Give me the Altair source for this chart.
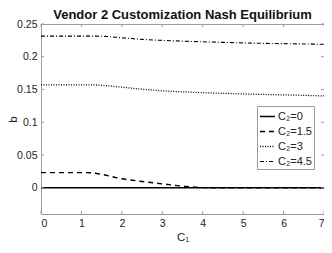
import altair as alt
import pandas as pd

x_vals = [0, 0.5, 1, 1.25, 1.5, 2, 2.5, 3, 3.5, 4, 4.5, 5, 5.5, 6, 6.5, 7]
c2_0 = [0] * 16
c2_15 = [0.0232, 0.0232, 0.0232, 0.0228, 0.0205, 0.0138, 0.0097, 0.006, 0.0025, 0.0003, 0, 0, 0, 0, 0, 0]
c2_3 = [0.157, 0.157, 0.157, 0.157, 0.1565, 0.1535, 0.1505, 0.148, 0.1465, 0.1452, 0.1442, 0.1433, 0.1425, 0.1418, 0.1411, 0.1402]
c2_45 = [0.2315, 0.2315, 0.2315, 0.2315, 0.2313, 0.229, 0.2265, 0.225, 0.2238, 0.2228, 0.222, 0.2212, 0.2205, 0.22, 0.2195, 0.219]
series_names = ["C\u2082=0", "C\u2082=1.5", "C\u2082=3", "C\u2082=4.5"]
x_ticks = [0, 1, 2, 3, 4, 5, 6, 7]
y_ticks = [0, 0.05, 0.1, 0.15, 0.2, 0.25]

rows = []
for name, ys in zip(series_names, [c2_0, c2_15, c2_3, c2_45]):
    for xv, yv in zip(x_vals, ys):
        rows.append({"x": xv, "y": yv, "s": name})
df = pd.DataFrame(rows)

W, H = 283, 190
FONT = "Liberation Sans"
GRAY = "#9a9a9a"

xs = alt.Scale(domain=[0, 7], nice=False)
ys = alt.Scale(domain=[-0.04, 0.25], nice=False, zero=False)

x_axis = alt.Axis(values=x_ticks, tickSize=0, labelPadding=4, titlePadding=3,
                  grid=False, domain=False, labelFontSize=10.5, titleFontSize=11.5,
                  titleFontWeight="normal", labelColor="#222", titleColor="#222",
                  labelOverlap=False)
y_axis = alt.Axis(values=y_ticks, format=".2~f", tickSize=0, labelPadding=4, titlePadding=-2,
                  grid=False, domain=False, labelFontSize=10.5, titleFontSize=11.5,
                  titleFontWeight="normal", labelColor="#222", titleColor="#222",
                  labelOverlap=False)

lines = alt.Chart(df).mark_line(color="black", interpolate="monotone").encode(
    x=alt.X("x:Q", scale=xs, title="C\u2081", axis=x_axis),
    y=alt.Y("y:Q", scale=ys, title="b", axis=y_axis),
    strokeDash=alt.StrokeDash("s:N", scale=alt.Scale(domain=series_names,
                                                     range=[[1, 0], [5, 4], [1, 1.5], [4, 2, 1, 2]]),
                              legend=alt.Legend(title=None, orient="none", legendX=216, legendY=82,
                                                fillColor="white", strokeColor=GRAY, padding=2,
                                                symbolType="stroke", symbolStrokeColor="black",
                                                symbolStrokeWidth=1.1, symbolSize=225,
                                                labelFontSize=11, labelColor="#222", rowPadding=1,
                                                labelOffset=2)),
    strokeWidth=alt.StrokeWidth("s:N", scale=alt.Scale(domain=series_names, range=[1.6, 1.1, 1.1, 1.1]),
                                legend=None),
)

xt = pd.DataFrame({"x": x_ticks})
yt = pd.DataFrame({"y": y_ticks})
xenc = alt.X("x:Q", scale=xs, title="C\u2081", axis=x_axis)
yenc = alt.Y("y:Q", scale=ys, title="b", axis=y_axis)
xb = alt.Chart(xt).mark_rule(color=GRAY).encode(x=xenc, y=alt.value(H), y2=alt.value(H - 3))
xtop = alt.Chart(xt).mark_rule(color=GRAY).encode(x=xenc, y=alt.value(0), y2=alt.value(3))
yl = alt.Chart(yt).mark_rule(color=GRAY).encode(y=yenc, x=alt.value(0), x2=alt.value(3))
yr = alt.Chart(yt).mark_rule(color=GRAY).encode(y=yenc, x=alt.value(W), x2=alt.value(W - 3))

chart = alt.layer(lines, xb, xtop, yl, yr).properties(
    width=W, height=H,
    title=alt.Title("Vendor 2 Customization Nash Equilibrium", fontSize=13, fontWeight="bold",
                    font=FONT, color="#111", offset=-3),
    autosize=alt.AutoSizeParams(type="none"),
    padding={"left": 33, "top": 16, "right": 0, "bottom": 31},
).configure(font=FONT).configure_axis(labelOverlap=False).configure_view(stroke=GRAY, strokeWidth=1)

chart.save("out.html", embed_options={"renderer": "svg", "actions": False})
